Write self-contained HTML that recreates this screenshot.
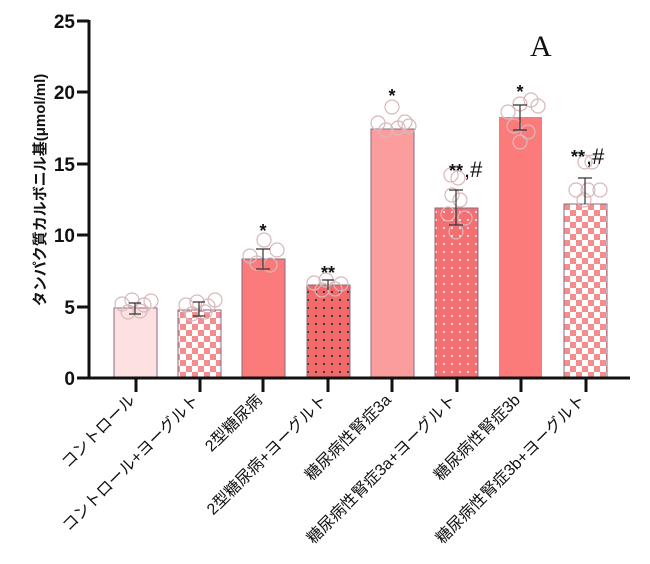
<!DOCTYPE html>
<html><head><meta charset="utf-8"><style>body{margin:0;background:#fff}svg{display:block}</style></head><body>
<svg width="650" height="564" viewBox="0 0 650 564" xmlns="http://www.w3.org/2000/svg" font-family="Liberation Sans, Noto Sans CJK JP, sans-serif">
<defs>
<pattern id="chk" width="12" height="12" patternUnits="userSpaceOnUse"><rect width="12" height="12" fill="#fff"/><rect width="6" height="6" fill="#f48e8e"/><rect x="6" y="6" width="6" height="6" fill="#f48e8e"/></pattern>
<pattern id="dotd" width="8" height="8" patternUnits="userSpaceOnUse"><rect width="8" height="8" fill="#f26a6a"/><circle cx="4" cy="4" r="1.1" fill="#333"/></pattern>
<pattern id="dotw" width="8" height="8" patternUnits="userSpaceOnUse"><rect width="8" height="8" fill="#f47070"/><circle cx="4" cy="4" r="1.1" fill="#fde"/></pattern>
</defs>
<g stroke="#8a6a80" stroke-width="1">
<rect x="114" y="308" width="43" height="70" fill="#fde0e0"/>
<rect x="178" y="310" width="43" height="68" fill="url(#chk)"/>
<rect x="242" y="259" width="43" height="119" fill="#fb7b7b"/>
<rect x="307" y="285" width="43" height="93" fill="url(#dotd)"/>
<rect x="371" y="129" width="43" height="249" fill="#fb9d9d"/>
<rect x="435" y="208" width="43" height="170" fill="url(#dotw)"/>
<rect x="499" y="117" width="43" height="261" fill="#fb7b7b" stroke="none"/>
<rect x="564" y="204" width="43" height="174" fill="url(#chk)"/>
</g>
<g fill="none" stroke="#d8b8bc" stroke-width="1.2">
<circle cx="122" cy="304" r="7"/><circle cx="132" cy="300" r="7"/><circle cx="144" cy="305" r="7"/><circle cx="128" cy="312" r="7"/><circle cx="140" cy="311" r="7"/><circle cx="151" cy="301" r="7"/>
<circle cx="186" cy="305" r="7"/><circle cx="197" cy="302" r="7"/><circle cx="208" cy="306" r="7"/><circle cx="192" cy="314" r="7"/><circle cx="205" cy="312" r="7"/><circle cx="215" cy="300" r="7"/>
<circle cx="250" cy="256" r="7"/><circle cx="264" cy="240" r="7"/><circle cx="277" cy="250" r="7"/><circle cx="257" cy="263" r="7"/><circle cx="270" cy="265" r="7"/>
<circle cx="314" cy="283" r="7"/><circle cx="326" cy="280" r="7"/><circle cx="341" cy="284" r="7"/><circle cx="322" cy="290" r="7"/><circle cx="335" cy="289" r="7"/>
<circle cx="378" cy="123" r="7"/><circle cx="392" cy="107" r="7"/><circle cx="405" cy="122" r="7"/><circle cx="386" cy="130" r="7"/><circle cx="398" cy="128" r="7"/><circle cx="409" cy="126" r="7"/>
<circle cx="451" cy="175" r="7"/><circle cx="458" cy="178" r="7"/><circle cx="452" cy="195" r="7"/><circle cx="460" cy="200" r="7"/><circle cx="448" cy="214" r="7"/><circle cx="465" cy="218" r="7"/><circle cx="456" cy="232" r="7"/>
<circle cx="508" cy="112" r="7"/><circle cx="520" cy="104" r="7"/><circle cx="531" cy="100" r="7"/><circle cx="538" cy="106" r="7"/><circle cx="514" cy="126" r="7"/><circle cx="528" cy="132" r="7"/><circle cx="520" cy="142" r="7"/>
<circle cx="576" cy="190" r="7"/><circle cx="588" cy="190" r="7"/><circle cx="600" cy="190" r="7"/><circle cx="585" cy="162" r="7"/><circle cx="592" cy="162" r="7"/><circle cx="584" cy="200" r="7"/>
</g>
<g stroke="#333" stroke-width="1.2">
<path d="M135 303V314M129 303H141M129 314H141"/>
<path d="M199 302V316M193 302H205M193 316H205"/>
<path d="M263 249V269M256 249H270M256 269H270"/>
<path d="M328 280V290M322 280H334"/>
<path d="M456 190V225M449 190H463M449 225H463"/>
<path d="M520 105V130M513 105H527M513 130H527"/>
<path d="M585 178V204M578 178H592"/>
</g>
<g font-size="18" fill="#111" font-weight="bold">
<text x="263" y="237" text-anchor="middle">*</text>
<text x="328" y="279" text-anchor="middle">**</text>
<text x="392" y="102" text-anchor="middle">*</text>
<text x="456" y="177" text-anchor="middle">**</text>
<text x="520" y="98" text-anchor="middle">*</text>
<text x="578" y="163" text-anchor="middle">**</text>
</g>
<g font-size="22" fill="#111"><text x="464" y="177">,#</text><text x="586" y="164">,#</text></g>
<text x="530" y="56" font-family="Liberation Serif, serif" font-size="30" fill="#111">A</text>
<g stroke="#111" stroke-width="3" fill="none">
<path d="M89 20V379M77 21H89M77 92H89M77 164H89M77 235H89M77 307H89M77 378H630"/>
<path d="M136 378V392M200 378V392M263 378V392M328 378V392M392 378V392M457 378V392M521 378V392M586 378V392"/>
</g>
<g font-size="19" font-weight="bold" fill="#111" text-anchor="end">
<text x="75" y="28">25</text><text x="75" y="99">20</text><text x="75" y="171">15</text><text x="75" y="242">10</text><text x="75" y="314">5</text><text x="75" y="385">0</text>
</g>
<text transform="translate(45,190) rotate(-90)" text-anchor="middle" font-size="15" font-weight="bold" fill="#111">タンパク質カルボニル基(μmol/ml)</text>
<g font-size="16" fill="#111" text-anchor="end">
<text transform="translate(136,401) rotate(-45)">コントロール</text>
<text transform="translate(200,401) rotate(-45)">コントロール+ヨーグルト</text>
<text transform="translate(263,401) rotate(-45)">2型糖尿病</text>
<text transform="translate(328,401) rotate(-45)">2型糖尿病+ヨーグルト</text>
<text transform="translate(392,401) rotate(-45)">糖尿病性腎症3a</text>
<text transform="translate(457,401) rotate(-45)">糖尿病性腎症3a+ヨーグルト</text>
<text transform="translate(521,401) rotate(-45)">糖尿病性腎症3b</text>
<text transform="translate(586,401) rotate(-45)">糖尿病性腎症3b+ヨーグルト</text>
</g>
</svg>
</body></html>
